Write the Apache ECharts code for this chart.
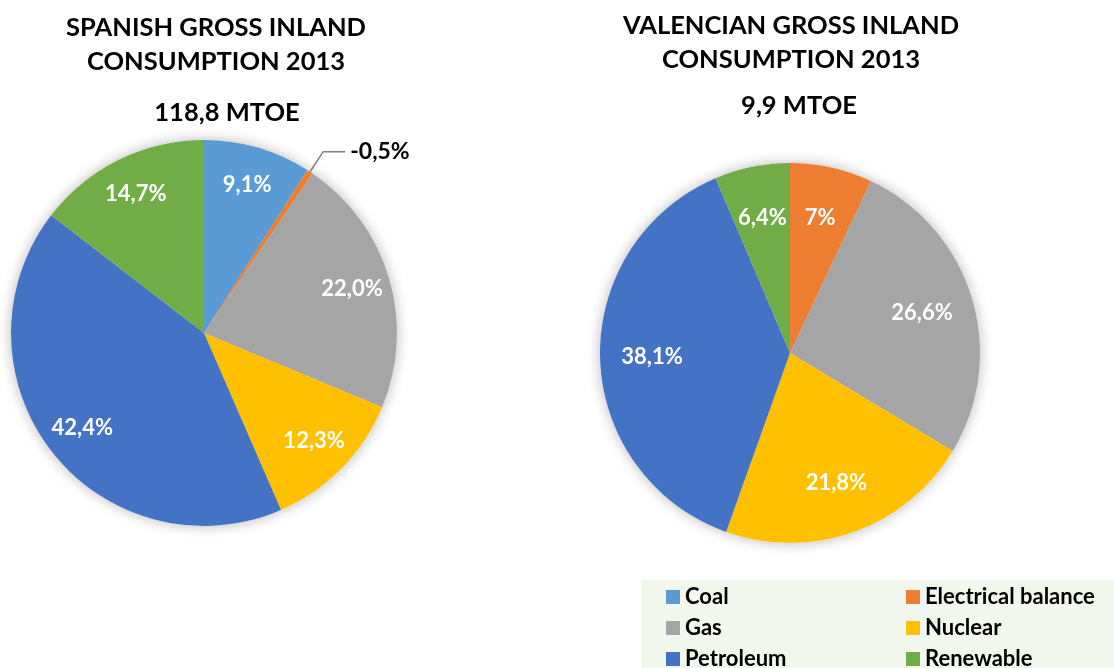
<!DOCTYPE html>
<html>
  <head>
    <meta charset="utf-8">
    <script src="https://cdn.jsdelivr.net/npm/echarts@6/dist/echarts.min.js"></script>
    <style>
      html, body { margin: 0; padding: 0; background: #fff; }
      #chart { width: 1114px; height: 668px; }
    </style>
  </head>
  <body>
    <div id="chart"></div>
    <script>
      // data
      const sources = ['Coal', 'Electrical balance', 'Gas', 'Nuclear', 'Petroleum', 'Renewable'];
      const colors = ['#5B9BD5', '#ED7D31', '#A5A5A5', '#FFC000', '#4472C4', '#70AD47'];
      const spainValues = [9.1, -0.5, 22.0, 12.3, 42.4, 14.7];
      const spainLabels = ['9,1%', '-0,5%', '22,0%', '12,3%', '42,4%', '14,7%'];
      const valenciaValues = [0, 7, 26.6, 21.8, 38.1, 6.4];
      const valenciaLabels = ['', '7%', '26,6%', '21,8%', '38,1%', '6,4%'];

      const FONT = 'Lato';

      // build pie items (negative shares drawn by magnitude, zero shares dropped)
      function items(values, labels) {
        const out = [];
        values.forEach(function (v, i) {
          if (v === 0) return;
          out.push({ name: sources[i], value: Math.abs(v), label: labels[i], itemStyle: { color: colors[i] } });
        });
        return out;
      }

      function pieSeries(values, labels, center, r, ring) {
        const data = items(values, labels);
        return [
          { // main slices
            type: 'pie', center: center, radius: [0, r], startAngle: 90, clockwise: true,
            z: 3, silent: true,
            data: data.map(function (d) {
              const neg = values[sources.indexOf(d.name)] < 0;
              return {
                name: d.name, value: d.value, itemStyle: d.itemStyle,
                label: neg ? {
                  show: true, position: 'outside', formatter: d.label,
                  color: '#000', fontFamily: FONT, fontWeight: 'bold', fontSize: 23
                } : { show: false },
                labelLine: neg ? { show: true, length: 24, length2: 22, lineStyle: { color: '#7F7F7F', width: 1.5 } } : { show: false }
              };
            })
          },
          { // label ring
            type: 'pie', center: center, radius: ring, startAngle: 90, clockwise: true,
            z: 4, silent: true,
            itemStyle: { color: 'rgba(0,0,0,0)' },
            data: data.map(function (d) {
              const neg = values[sources.indexOf(d.name)] < 0;
              return {
                name: d.name, value: d.value,
                label: { show: !neg, position: 'inside', formatter: d.label,
                  color: '#fff', fontFamily: FONT, fontWeight: 'bold', fontSize: 22 }
              };
            }),
            labelLine: { show: false }
          },
          { // soft shadow
            type: 'pie', center: center, radius: [0, r], startAngle: 90, clockwise: true,
            z: 1, silent: true,
            itemStyle: { color: '#fff', shadowBlur: 14, shadowColor: 'rgba(0,0,0,0.28)' },
            label: { show: false }, labelLine: { show: false },
            data: data.map(function (d) { return { name: d.name, value: d.value }; })
          }
        ];
      }

      const titleStyle = { fontFamily: FONT, fontWeight: 'bold', fontSize: 25.5, color: '#000', lineHeight: 34 };
      const legendText = { fontFamily: FONT, fontWeight: 'bold', fontSize: 22, lineHeight: 20, color: '#000' };

      const chart = echarts.init(document.getElementById('chart'));
      chart.setOption({
        animation: false,
        title: [
          { text: 'SPANISH GROSS INLAND\nCONSUMPTION 2013', left: 216, top: 11, textAlign: 'center', textStyle: titleStyle, padding: 0 },
          { text: '118,8 MTOE', left: 227, top: 96, textAlign: 'center', textStyle: titleStyle, padding: 0 },
          { text: 'VALENCIAN GROSS INLAND\nCONSUMPTION 2013', left: 791, top: 9, textAlign: 'center', textStyle: titleStyle, padding: 0 },
          { text: '9,9 MTOE', left: 799, top: 89, textAlign: 'center', textStyle: titleStyle, padding: 0 }
        ],
        legend: [
          {
            orient: 'vertical', left: 641, top: 580, height: 140,
            padding: [6, 330, 10, 25],
            backgroundColor: '#F2F7EE',
            itemWidth: 14, itemHeight: 14, itemGap: 9,
            icon: 'rect',
            selectedMode: false,
            textStyle: legendText,
            data: [sources[0], sources[2], sources[4]]
          },
          {
            orient: 'vertical', left: 906, top: 580, height: 140,
            padding: [6, 0, 0, 0],
            itemWidth: 14, itemHeight: 14, itemGap: 9,
            icon: 'rect',
            selectedMode: false,
            textStyle: legendText,
            data: [sources[1], sources[3], sources[5]]
          }
        ],
        series: [].concat(
          pieSeries(spainValues, spainLabels, [204, 333], 193, [110, 193]),
          pieSeries(valenciaValues, valenciaLabels, [790, 353], 190, [80, 190])
        )
      });
    </script>
  </body>
</html>
